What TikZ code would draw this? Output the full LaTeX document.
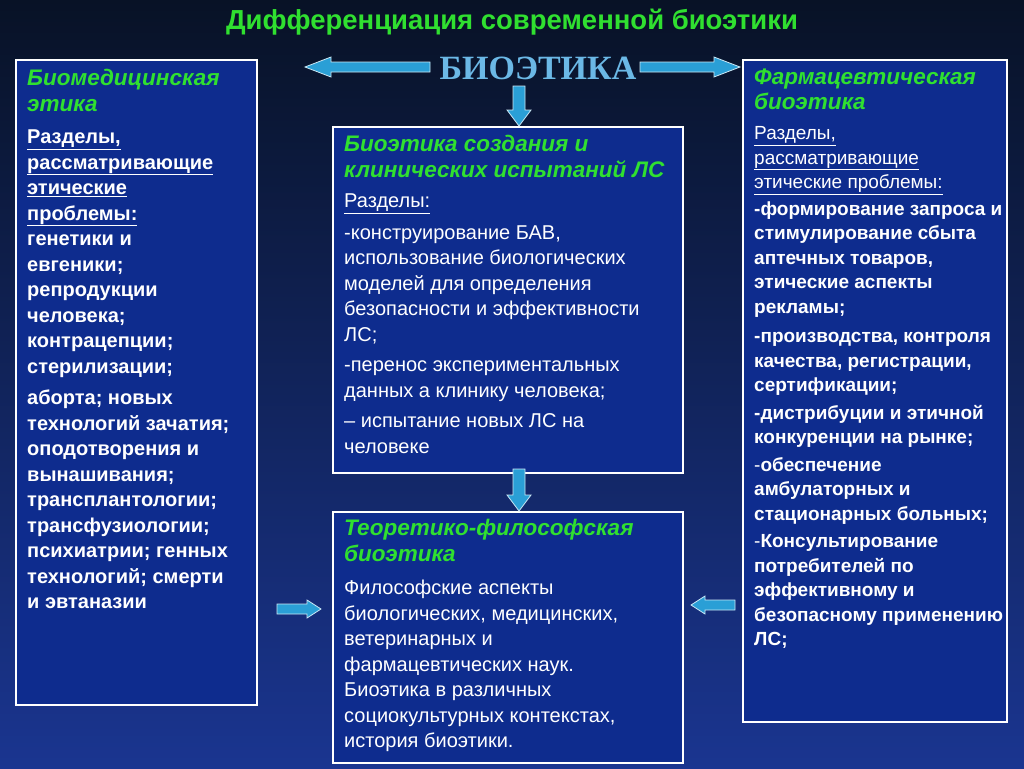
\documentclass[tikz,border=0pt]{standalone}
\usepackage{fontspec}
\setmainfont{Liberation Sans}
\newfontfamily\serifb{Liberation Serif}
\definecolor{bgtop}{HTML}{081226}
\definecolor{bgbot}{HTML}{1A3590}
\definecolor{boxfill}{HTML}{0E2C8E}
\definecolor{hgreen}{HTML}{30E030}
\definecolor{arrowc}{HTML}{2A9FD6}
\definecolor{bioc}{HTML}{6BB8E6}
\newcommand{\hd}[1]{{\color{hgreen}\fontsize{22.5}{25}\selectfont\bfseries\itshape #1}}
\newcommand{\ul}[1]{\underline{#1}}
% fat arrow: start point, angle, length, shaft half, head half, head length
\newcommand{\fatarr}[6]{\begin{scope}[shift={#1},rotate=#2]
\filldraw[draw=white!75!arrowc,line width=0.8pt,fill=arrowc] (0,-#4)--({#3-#6},-#4)--({#3-#6},-#5)--(#3,0)--({#3-#6},#5)--({#3-#6},#4)--(0,#4)--cycle;
\end{scope}}
\tikzset{
  panel/.style={draw=white,line width=2.5pt,fill=boxfill},
  txt/.style={anchor=north west,align=left,text=white,inner sep=0pt,font=\fontsize{20}{25.5}\selectfont},
}
\begin{document}
\begin{tikzpicture}[x=1pt,y=-1pt]
\shade[top color=bgtop,bottom color=bgbot] (0,0) rectangle (1024,768);
\useasboundingbox (0,0) rectangle (1024,768);
\node[text=hgreen,font=\fontsize{27.5}{30}\selectfont\bfseries] (title) at (512,22) {Дифференциация современной биоэтики};
% panels
\draw[panel] (16,60) rectangle (257,705);
\draw[panel] (333,127) rectangle (683,473);
\draw[panel] (333,512) rectangle (683,763);
\draw[panel] (743,60) rectangle (1007,722);
% arrows
\fatarr{(430,67)}{180}{125}{5}{10}{26}
\fatarr{(640,67)}{0}{100}{5}{10}{26}
\fatarr{(519,86)}{-90}{40}{6}{12}{16}
\fatarr{(519,469)}{-90}{42}{6}{12}{16}
\fatarr{(277,609)}{0}{44}{5}{9}{14}
\fatarr{(735,605)}{180}{44}{5}{9}{14}
\node[text=bioc,font=\serifb\fontsize{34}{36}\selectfont\bfseries,inner sep=2pt] (bio) at (538,68) {БИОЭТИКА};
% left text
\node[txt] (lt) at (27,69) {\hd{Биомедицинская}\\\hd{этика}\\[7pt]
\bfseries\ul{Разделы,}\\\bfseries\ul{рассматривающие}\\\bfseries\ul{этические}\\\bfseries\ul{проблемы:}\\
\bfseries генетики и\\\bfseries евгеники;\\\bfseries репродукции\\\bfseries человека;\\\bfseries контрацепции;\\\bfseries стерилизации;\\[6pt]
\bfseries аборта; новых\\\bfseries технологий зачатия;\\\bfseries оподотворения и\\\bfseries вынашивания;\\\bfseries трансплантологии;\\\bfseries трансфузиологии;\\\bfseries психиатрии; генных\\\bfseries технологий; смерти\\\bfseries и эвтаназии};
% center top
\node[txt] (ct) at (344,135) {\hd{Биоэтика создания и}\\\hd{клинических испытаний ЛС}\\[5pt]
\ul{Разделы:}\\[6pt]
-конструирование БАВ,\\использование биологических\\моделей для определения\\безопасности и эффективности\\ЛС;\\[5pt]
-перенос экспериментальных\\данных а клинику человека;\\[5pt]
-- испытание новых ЛС на\\человеке};
% center bottom
\node[txt] (cb) at (344,519) {\hd{Теоретико-философская}\\\hd{биоэтика}\\[8pt]
Философские аспекты\\биологических, медицинских,\\ветеринарных и\\фармацевтических наук.\\Биоэтика в различных\\социокультурных контекстах,\\история биоэтики.};
% right
\node[txt,font=\fontsize{19}{24.5}\selectfont] (rt) at (754,69) {\hd{Фармацевтическая}\\\hd{биоэтика}\\[6pt]
\ul{Разделы,}\\\ul{рассматривающие}\\\ul{этические проблемы:}\\[2pt]
\bfseries-формирование запроса и\\\bfseries стимулирование сбыта\\\bfseries аптечных товаров,\\\bfseries этические аспекты\\\bfseries рекламы;\\[5pt]
\bfseries-производства, контроля\\\bfseries качества, регистрации,\\\bfseries сертификации;\\[3pt]
\bfseries-дистрибуции и этичной\\\bfseries конкуренции на рынке;\\[3pt]
-\bfseries обеспечение\\\bfseries амбулаторных и\\\bfseries стационарных больных;\\[3pt]
-\bfseries Консультирование\\\bfseries потребителей по\\\bfseries эффективному и\\\bfseries безопасному применению\\\bfseries ЛС;};
\end{tikzpicture}
\end{document}
